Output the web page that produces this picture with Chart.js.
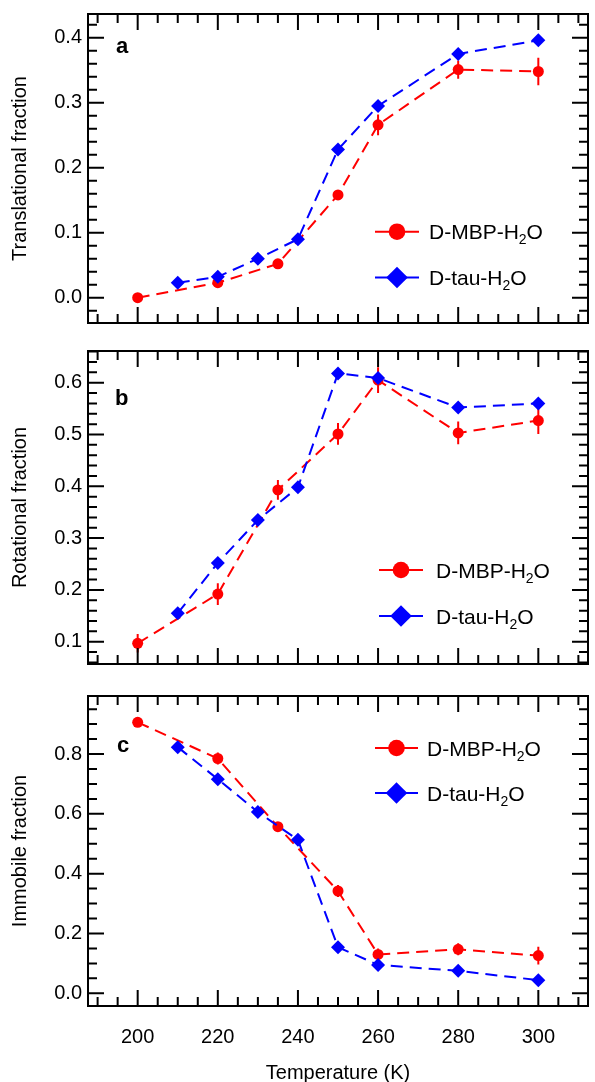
<!DOCTYPE html>
<html lang="en">
<head>
<meta charset="UTF-8">
<title>Frações translacional, rotacional e imóvel</title>
<script src="https://cdn.jsdelivr.net/npm/chart.js"></script>
<style>
  body { margin: 0; background: #fff; }
  .painel { position: absolute; left: 0; }
</style>
</head>
<body>
<canvas id="graficoA" class="painel" style="top:0px" width="595" height="340"></canvas>
<canvas id="graficoB" class="painel" style="top:340px" width="595" height="340"></canvas>
<canvas id="graficoC" class="painel" style="top:680px" width="595" height="402"></canvas>

<script>
// temperaturas (K) de cada amostra
var tempMBP = [200, 220, 235, 250, 260, 280, 300];
var tempTau = [210, 220, 230, 240, 250, 260, 280, 300];

// fração translacional
var transMBP    = [0.000, 0.023, 0.052, 0.158, 0.266, 0.351, 0.348];
var transMBPErr = [0.004, 0.006, 0.005, 0.005, 0.016, 0.014, 0.021];
var transTau    = [0.023, 0.032, 0.060, 0.090, 0.228, 0.295, 0.375, 0.396];
var transTauErr = [0.004, 0.004, 0.004, 0.004, 0.005, 0.005, 0.005, 0.006];

// fração rotacional
var rotMBP    = [0.097, 0.192, 0.393, 0.501, 0.605, 0.503, 0.527];
var rotMBPErr = [0.018, 0.021, 0.019, 0.021, 0.025, 0.022, 0.026];
var rotTau    = [0.155, 0.252, 0.335, 0.398, 0.618, 0.609, 0.552, 0.560];
var rotTauErr = [0.005, 0.005, 0.005, 0.005, 0.008, 0.008, 0.008, 0.008];

// fração imóvel
var imoMBP    = [0.906, 0.785, 0.557, 0.342, 0.130, 0.147, 0.126];
var imoMBPErr = [0.012, 0.020, 0.010, 0.020, 0.020, 0.020, 0.030];
var imoTau    = [0.823, 0.716, 0.606, 0.513, 0.154, 0.095, 0.075, 0.044];
var imoTauErr = [0.008, 0.008, 0.008, 0.008, 0.008, 0.008, 0.008, 0.008];

// marcas dos eixos
var ticksX = [200, 220, 240, 260, 280, 300];
var ticksYA = [0.0, 0.1, 0.2, 0.3, 0.4];
var ticksYB = [0.1, 0.2, 0.3, 0.4, 0.5, 0.6];
var ticksYC = [0.0, 0.2, 0.4, 0.6, 0.8];

var VERMELHO = '#ff0000';
var AZUL = '#0000ff';
var fonte = "'Liberation Sans', Arial, Helvetica, sans-serif";

Chart.defaults.font.family = fonte;
Chart.defaults.font.size = 20;
Chart.defaults.color = '#000';

function pontos(xs, ys) {
    var lista = [];
    for (let i = 0; i < xs.length; i++) {
        lista.push({ x: xs[i], y: ys[i] });
    }
    return lista;
}

// barras de erro verticais, desenhadas por baixo dos marcadores
var barrasErro = {
    id: 'barrasErro',
    beforeDatasetsDraw: function (chart) {
        var ctx = chart.ctx;
        var sx = chart.scales.x, sy = chart.scales.y;
        ctx.save();
        chart.data.datasets.forEach(function (ds) {
            if (!ds.erros) return;
            ctx.strokeStyle = ds.borderColor;
            ctx.lineWidth = 2;
            ctx.beginPath();
            ds.data.forEach(function (p, i) {
                var px = sx.getPixelForValue(p.x);
                ctx.moveTo(px, sy.getPixelForValue(p.y - ds.erros[i]));
                ctx.lineTo(px, sy.getPixelForValue(p.y + ds.erros[i]));
            });
            ctx.stroke();
        });
        ctx.restore();
    }
};

// moldura com marcas para dentro nos quatro lados
function marcas(min, max, passo, maior) {
    var lista = [];
    for (let k = Math.ceil(min / passo - 1e-9); k * passo <= max + 1e-9; k++) {
        var v = k * passo;
        var r = v / maior;
        lista.push({ v: v, maior: Math.abs(r - Math.round(r)) < 1e-6 });
    }
    return lista;
}

var moldura = {
    id: 'moldura',
    afterDraw: function (chart, args, o) {
        var ctx = chart.ctx, a = chart.chartArea;
        var sx = chart.scales.x, sy = chart.scales.y;
        ctx.save();
        ctx.strokeStyle = '#000';
        ctx.lineWidth = 2;
        ctx.beginPath();
        marcas(sx.min, sx.max, 5, 20).forEach(function (t) {
            var px = sx.getPixelForValue(t.v);
            var len = t.maior ? 16 : 9;
            ctx.moveTo(px, a.bottom); ctx.lineTo(px, a.bottom - len);
            ctx.moveTo(px, a.top); ctx.lineTo(px, a.top + len);
        });
        marcas(sy.min, sy.max, o.menorY, o.maiorY).forEach(function (t) {
            var py = sy.getPixelForValue(t.v);
            var len = t.maior ? 16 : 9;
            ctx.moveTo(a.left, py); ctx.lineTo(a.left + len, py);
            ctx.moveTo(a.right, py); ctx.lineTo(a.right - len, py);
        });
        ctx.stroke();
        ctx.strokeRect(a.left, a.top, a.right - a.left, a.bottom - a.top);
        ctx.restore();
    }
};

// letra do painel e legenda com índice subscrito
function textoH2O(ctx, prefixo, x, y) {
    var base = y + 7.5;
    ctx.font = '21px ' + fonte;
    ctx.fillText(prefixo + 'H', x, base);
    var w = ctx.measureText(prefixo + 'H').width;
    ctx.font = '14px ' + fonte;
    ctx.fillText('2', x + w, base + 5);
    var w2 = ctx.measureText('2').width;
    ctx.font = '21px ' + fonte;
    ctx.fillText('O', x + w + w2, base);
}

var legenda = {
    id: 'legenda',
    afterDraw: function (chart, args, o) {
        var ctx = chart.ctx;
        ctx.save();
        ctx.fillStyle = '#000';
        ctx.textBaseline = 'alphabetic';
        ctx.textAlign = 'left';
        ctx.font = 'bold 22px ' + fonte;
        ctx.fillText(o.letra, o.letraX, o.letraY);

        ctx.lineWidth = 2;
        // D-MBP-H2O
        ctx.strokeStyle = VERMELHO;
        ctx.fillStyle = VERMELHO;
        ctx.beginPath();
        ctx.moveTo(o.x0, o.y1); ctx.lineTo(o.x1, o.y1);
        ctx.stroke();
        ctx.beginPath();
        ctx.arc((o.x0 + o.x1) / 2, o.y1, 8.3, 0, Math.PI * 2);
        ctx.fill();
        // D-tau-H2O
        var xm = (o.x0 + o.x1) / 2, d = 10.8;
        ctx.strokeStyle = AZUL;
        ctx.fillStyle = AZUL;
        ctx.beginPath();
        ctx.moveTo(o.x0, o.y2); ctx.lineTo(o.x1, o.y2);
        ctx.stroke();
        ctx.beginPath();
        ctx.moveTo(xm - d, o.y2); ctx.lineTo(xm, o.y2 - d);
        ctx.lineTo(xm + d, o.y2); ctx.lineTo(xm, o.y2 + d);
        ctx.closePath();
        ctx.fill();

        ctx.fillStyle = '#000';
        textoH2O(ctx, 'D-MBP-', o.xt, o.y1);
        textoH2O(ctx, 'D-tau-', o.xt, o.y2);
        ctx.restore();
    }
};

function criarGrafico(id, cfg) {
    var comEixoX = cfg.eixoX;
    return new Chart(document.getElementById(id), {
        type: 'line',
        data: {
            datasets: [{
                label: 'D-MBP-H2O',
                data: pontos(tempMBP, cfg.mbp),
                erros: cfg.mbpErr,
                borderColor: VERMELHO,
                backgroundColor: VERMELHO,
                borderWidth: 2,
                borderDash: [12, 7],
                pointStyle: 'circle',
                pointRadius: 5.5,
                pointBorderWidth: 0,
                pointBackgroundColor: VERMELHO,
                order: 1
            }, {
                label: 'D-tau-H2O',
                data: pontos(tempTau, cfg.tau),
                erros: cfg.tauErr,
                borderColor: AZUL,
                backgroundColor: AZUL,
                borderWidth: 2,
                borderDash: [12, 7],
                pointStyle: 'rectRot',
                pointRadius: 7,
                pointBorderWidth: 0,
                pointBackgroundColor: AZUL,
                order: 0
            }]
        },
        options: {
            responsive: false,
            animation: false,
            devicePixelRatio: 1,
            layout: { padding: { top: cfg.topo, right: 2, left: 0, bottom: 0 } },
            plugins: {
                legend: { display: false },
                tooltip: { enabled: false },
                moldura: { menorY: cfg.menorY, maiorY: cfg.maiorY },
                legenda: cfg.legenda
            },
            scales: {
                x: {
                    type: 'linear',
                    min: 187.6,
                    max: 312.4,
                    grid: { display: false, drawTicks: false },
                    border: { display: false },
                    ticks: { display: comEixoX, padding: 19, autoSkip: false, font: { size: 20 } },
                    title: {
                        display: comEixoX,
                        text: 'Temperature (K)',
                        font: { size: 20, lineHeight: 0.9 },
                        padding: { top: 0, bottom: 0 }
                    },
                    afterBuildTicks: function (s) {
                        s.ticks = ticksX.map(function (v) { return { value: v }; });
                    },
                    afterFit: function (s) {
                        s.height = cfg.alturaX;
                        s.paddingLeft = 0;
                        s.paddingRight = 0;
                    }
                },
                y: {
                    min: cfg.yMin,
                    max: cfg.yMax,
                    grid: { display: false, drawTicks: false },
                    border: { display: false },
                    ticks: {
                        padding: 6,
                        font: { size: 20 },
                        callback: function (v) { return v.toFixed(1); }
                    },
                    title: {
                        display: true,
                        text: cfg.tituloY,
                        font: { size: 20 },
                        padding: { top: 8, bottom: 0 }
                    },
                    afterBuildTicks: function (s) {
                        s.ticks = cfg.ticksY.map(function (v) { return { value: v }; });
                    },
                    afterFit: function (s) {
                        s.width = 88;
                        s.paddingTop = 0;
                        s.paddingBottom = 0;
                    }
                }
            }
        },
        plugins: [barrasErro, moldura, legenda]
    });
}

criarGrafico('graficoA', {
    mbp: transMBP, mbpErr: transMBPErr, tau: transTau, tauErr: transTauErr,
    yMin: -0.039, yMax: 0.4365, ticksY: ticksYA, menorY: 0.02, maiorY: 0.1,
    tituloY: 'Translational fraction', topo: 14, alturaX: 17, eixoX: false,
    legenda: { letra: 'a', letraX: 116, letraY: 53, x0: 375, x1: 419, xt: 429, y1: 231.7, y2: 277.5 }
});

criarGrafico('graficoB', {
    mbp: rotMBP, mbpErr: rotMBPErr, tau: rotTau, tauErr: rotTauErr,
    yMin: 0.057, yMax: 0.6612, ticksY: ticksYB, menorY: 0.02, maiorY: 0.1,
    tituloY: 'Rotational fraction', topo: 11, alturaX: 16, eixoX: false,
    legenda: { letra: 'b', letraX: 115, letraY: 65, x0: 379, x1: 423, xt: 436, y1: 230, y2: 276 }
});

criarGrafico('graficoC', {
    mbp: imoMBP, mbpErr: imoMBPErr, tau: imoTau, tauErr: imoTauErr,
    yMin: -0.0425, yMax: 0.994, ticksY: ticksYC, menorY: 0.05, maiorY: 0.2,
    tituloY: 'Immobile fraction', topo: 16, alturaX: 76, eixoX: true,
    legenda: { letra: 'c', letraX: 117, letraY: 71.7, x0: 375, x1: 418, xt: 427, y1: 68, y2: 113 }
});
</script>
</body>
</html>
